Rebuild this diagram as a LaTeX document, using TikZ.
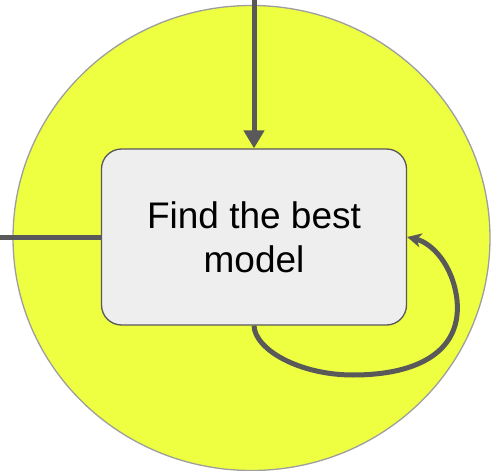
\documentclass[tikz,border=0pt]{standalone}
\usepackage{fontspec}
\setmainfont{Liberation Sans}
\usetikzlibrary{arrows.meta}
\definecolor{ylw}{HTML}{EEFF41}
\definecolor{ringc}{HTML}{9E9E9E}
\definecolor{linec}{HTML}{595959}
\definecolor{boxfill}{HTML}{EEEEEE}
\tikzset{
  conn/.style={draw=linec, line width=5pt},
  procbox/.style={draw=linec, line width=1.3pt, fill=boxfill, rounded corners=20pt,
    minimum width=305pt, minimum height=176pt, align=center, inner sep=0pt,
    font=\fontsize{37}{44}\selectfont}
}
\begin{document}
\begin{tikzpicture}[x=1pt,y=-1pt]
\useasboundingbox (0,0) rectangle (491,471);
\fill[ylw, draw=ringc, line width=1.3pt] (251.5,238) ellipse [x radius=238.5, y radius=232.5];
\node[procbox] (box) at (254,237) {Find the best\\model};
\coordinate (topin) at (254,0);
\coordinate (leftin) at (0,237);
\draw[conn, -{Triangle[length=18pt,width=20pt]}] (topin) -- (box.north);
\draw[conn] (leftin) -- (box.west);
\draw[conn, -{Stealth[length=14pt,width=14pt,inset=4pt]}]
  (box.south) .. controls (255,350) and (300,375) .. (353,375)
  .. controls (420,375) and (462,350) .. (457,300)
  .. controls (453,265) and (432,243) .. (box.east);
\end{tikzpicture}
\end{document}
